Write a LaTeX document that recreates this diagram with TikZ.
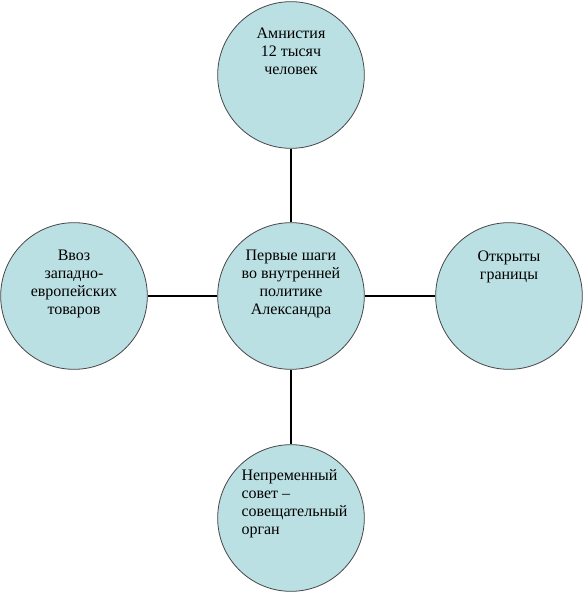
\documentclass[tikz,border=0pt]{standalone}
\usepackage{fontspec}
\setmainfont{Liberation Serif}
\usetikzlibrary{positioning,calc}

\definecolor{bubblefill}{RGB}{187,224,227}
\definecolor{bubbleline}{RGB}{70,70,70}

\tikzset{
  bubble/.style={circle, draw=bubbleline, line width=0.6pt, fill=bubblefill, minimum size=110pt, inner sep=0pt},
  bubbletext/.style={align=center, inner sep=0pt, font=\fontsize{12}{13.5}\selectfont},
  link/.style={line width=1.5pt, black}
}

\begin{document}
\begin{tikzpicture}[x=0.75pt,y=-0.75pt]
            \useasboundingbox (0,0) rectangle (583,593);

            % Circles
            \node[bubble] (center) at (291,296) {};
            \node[bubble] (amnesty) at (291,75) {};
            \node[bubble] (imports) at (74,296) {};
            \node[bubble] (borders) at (509,296) {};
            \node[bubble] (council) at (291,518) {};

            % Links
            \draw[link] (amnesty) -- (center);
            \draw[link] (center) -- (imports);
            \draw[link] (center) -- (borders);
            \draw[link] (center) -- (council);

            % Texts
            \node[bubbletext, anchor=north] (centertext) at ($(center.north)+(0,27)$) {Первые шаги\\во внутренней\\политике\\Александра};
            \node[bubbletext, anchor=north] (amnestytext) at ($(amnesty.north)+(0,26)$) {Амнистия\\12 тысяч\\человек};
            \node[bubbletext, anchor=north] (importstext) at ($(imports.north)+(0,27)$) {Ввоз\\западно-\\европейских\\товаров};
            \node[bubbletext, anchor=north] (borderstext) at ($(borders.north)+(0,28)$) {Открыты\\границы};
            \node[bubbletext, align=left, anchor=north west] (counciltext) at ($(council.west)+(24,-49)$) {Непременный\\совет --\\совещательный\\орган};
\end{tikzpicture}
\end{document}
